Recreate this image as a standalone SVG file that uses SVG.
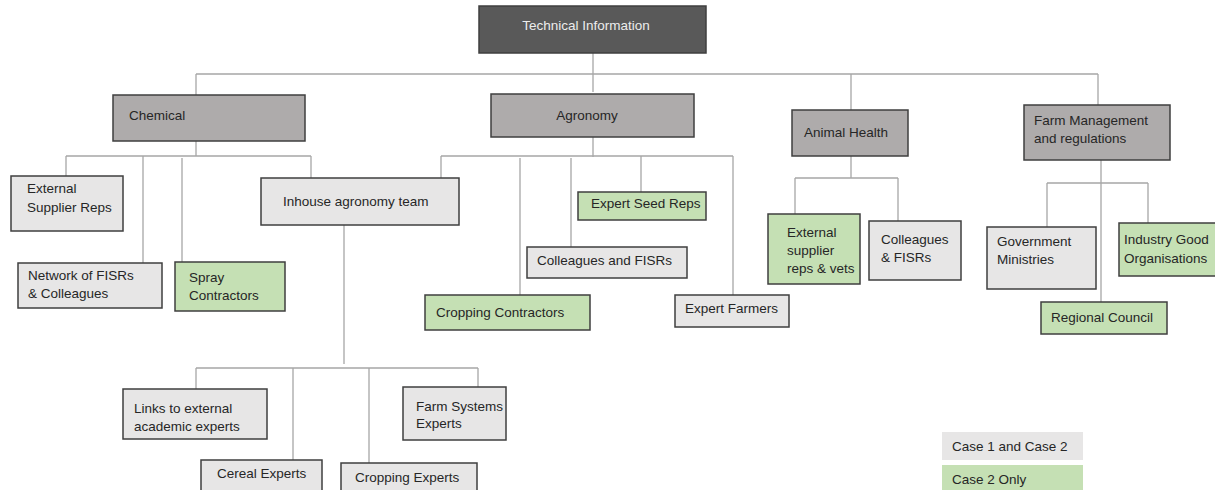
<svg xmlns="http://www.w3.org/2000/svg" width="1215" height="490" viewBox="0 0 1215 490">
<style>
text{font-family:"Liberation Sans",Arial,sans-serif;font-size:13.5px;fill:#262626}
.box{stroke:#3f3f3f;stroke-width:1.5}
.dark{fill:#595959}
.mid{fill:#aeabab}
.light{fill:#e7e6e6}
.green{fill:#c5e0b4}
.lw{fill:#eeeeee}
#connectors path{fill:none;stroke:#a6a6a6;stroke-width:1.3}
</style>
<rect width="1215" height="490" fill="#ffffff"/>
<g id="connectors">
<path d="M593,53V92"/>
<path d="M196,74H1098"/>
<path d="M196,74V95"/>
<path d="M851,74V110"/>
<path d="M1098,74V105"/>
<path d="M196,141V156"/>
<path d="M66,156H311"/>
<path d="M66,156V176"/>
<path d="M143,156V263"/>
<path d="M182,158V262"/>
<path d="M311,156V178"/>
<path d="M593,137V157"/>
<path d="M441,156H733"/>
<path d="M441,156V178"/>
<path d="M520,158V295"/>
<path d="M571,158V247"/>
<path d="M641,156V192"/>
<path d="M733,156V295"/>
<path d="M851,156V178"/>
<path d="M795,178H898"/>
<path d="M795,178V214"/>
<path d="M898,178V221"/>
<path d="M1101,160V302"/>
<path d="M1047,183H1148"/>
<path d="M1047,183V227"/>
<path d="M1148,183V223"/>
<path d="M344,225V364"/>
<path d="M196,368H478"/>
<path d="M196,368V389"/>
<path d="M293,368V460"/>
<path d="M369,368V463"/>
<path d="M478,368V387"/>
</g>
<g id="technical-information">
<rect class="box dark" x="479" y="6" width="227" height="47"/>
<text x="586" y="30" text-anchor="middle" style="fill:#ececec">Technical Information</text>
</g>
<g id="chemical">
<rect class="box mid" x="113" y="95" width="192" height="46"/>
<text x="129" y="120">Chemical</text>
</g>
<g id="agronomy">
<rect class="box mid" x="491" y="94" width="203" height="43"/>
<text x="587" y="120" text-anchor="middle">Agronomy</text>
</g>
<g id="animal-health">
<rect class="box mid" x="792" y="110" width="116" height="46"/>
<text x="804" y="137">Animal Health</text>
</g>
<g id="farm-management">
<rect class="box mid" x="1024" y="105" width="146" height="55"/>
<text x="1034" y="125">Farm Management</text>
<text x="1034" y="143">and regulations</text>
</g>
<g id="external-supplier-reps">
<rect class="box light" x="11" y="176" width="112" height="55"/>
<text x="27" y="193">External</text>
<text x="27" y="212">Supplier Reps</text>
</g>
<g id="network-fisrs">
<rect class="box light" x="18" y="263" width="144" height="45"/>
<text x="28" y="280">Network of FISRs</text>
<text x="28" y="298">&amp; Colleagues</text>
</g>
<g id="spray-contractors">
<rect class="box green" x="175" y="262" width="110" height="49"/>
<text x="189" y="282">Spray</text>
<text x="189" y="300">Contractors</text>
</g>
<g id="inhouse-agronomy-team">
<rect class="box light" x="261" y="178" width="198" height="47"/>
<text x="283" y="206">Inhouse agronomy team</text>
</g>
<g id="expert-seed-reps">
<rect class="box green" x="578" y="192" width="128" height="28"/>
<text x="591" y="208">Expert Seed Reps</text>
</g>
<g id="colleagues-and-fisrs">
<rect class="box light" x="527" y="247" width="160" height="31"/>
<text x="537" y="265">Colleagues and FISRs</text>
</g>
<g id="cropping-contractors">
<rect class="box green" x="425" y="295" width="165" height="35"/>
<text x="436" y="317">Cropping Contractors</text>
</g>
<g id="expert-farmers">
<rect class="box light" x="675" y="295" width="114" height="32"/>
<text x="685" y="313">Expert Farmers</text>
</g>
<g id="external-supplier-vets">
<rect class="box green" x="768" y="214" width="92" height="70"/>
<text x="787" y="237">External</text>
<text x="787" y="255">supplier</text>
<text x="787" y="273">reps &amp; vets</text>
</g>
<g id="colleagues-fisrs-animal">
<rect class="box light" x="869" y="221" width="92" height="59"/>
<text x="881" y="244">Colleagues</text>
<text x="881" y="262">&amp; FISRs</text>
</g>
<g id="government-ministries">
<rect class="box light" x="987" y="227" width="109" height="62"/>
<text x="997" y="246">Government</text>
<text x="997" y="264">Ministries</text>
</g>
<g id="industry-good">
<rect class="box green" x="1119" y="223" width="100" height="53"/>
<text x="1124" y="244">Industry Good</text>
<text x="1124" y="263">Organisations</text>
</g>
<g id="regional-council">
<rect class="box green" x="1041" y="302" width="126" height="32"/>
<text x="1051" y="322">Regional Council</text>
</g>
<g id="links-academic">
<rect class="box light" x="123" y="389" width="144" height="50"/>
<text x="134" y="413">Links to external</text>
<text x="134" y="431">academic experts</text>
</g>
<g id="farm-systems-experts">
<rect class="box light" x="403" y="387" width="103" height="53"/>
<text x="416" y="411">Farm Systems</text>
<text x="416" y="428">Experts</text>
</g>
<g id="cereal-experts">
<rect class="box light" x="201" y="460" width="121" height="40"/>
<text x="217" y="478">Cereal Experts</text>
</g>
<g id="cropping-experts">
<rect class="box light" x="341" y="463" width="136" height="40"/>
<text x="355" y="482">Cropping Experts</text>
</g>
<g id="legend">
<rect class="light" x="942" y="432" width="141" height="28"/>
<text x="952" y="451">Case 1 and Case 2</text>
<rect class="green" x="942" y="465" width="141" height="30"/>
<text x="952" y="484">Case 2 Only</text>
</g>
</svg>
